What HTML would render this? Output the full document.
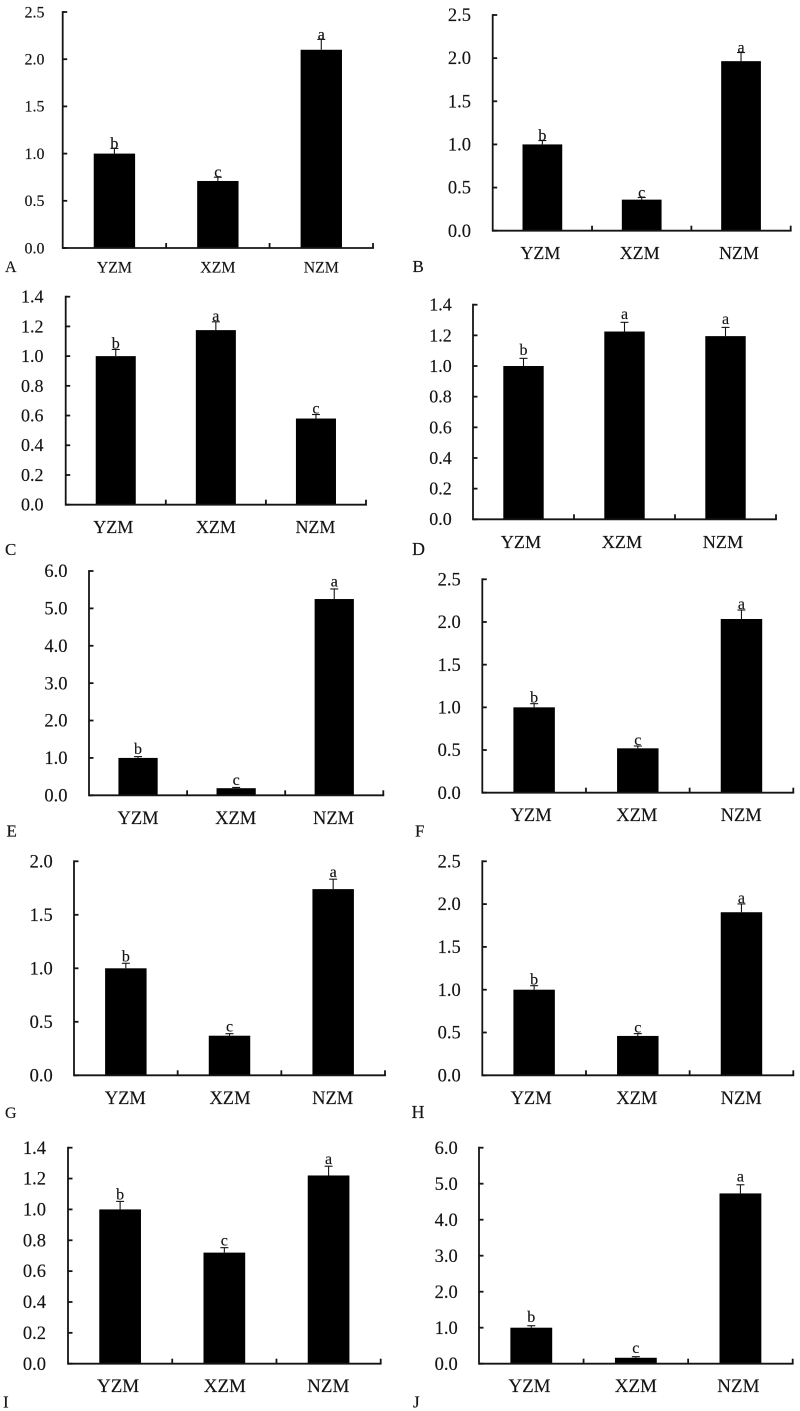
<!DOCTYPE html>
<html lang="en">
<head>
<meta charset="utf-8">
<title>Relative expression bar charts, panels A to J</title>
<style>
  html, body { margin: 0; padding: 0; background: #fff; }
  body { width: 800px; height: 1411px; overflow: hidden; }
  svg { display: block; font-family: "Liberation Serif", "Times New Roman", serif; fill: #141414; filter: blur(0.35px); }
  text { fill: #141414; stroke: #141414; stroke-width: 0.15px; }
</style>
</head>
<body>
<svg id="figure" width="800" height="1411" viewBox="0 0 800 1411" xmlns="http://www.w3.org/2000/svg">
  <rect width="800" height="1411" fill="#fff"/>
  <text x="5" y="272" font-size="16">A</text>
  <text x="412.5" y="272" font-size="17">B</text>
  <text x="5" y="555" font-size="17">C</text>
  <text x="412" y="555" font-size="18">D</text>
  <text x="6.5" y="836.5" font-size="17">E</text>
  <text x="415" y="836.5" font-size="17">F</text>
  <text x="5" y="1118" font-size="16">G</text>
  <text x="411.5" y="1118" font-size="18">H</text>
  <text x="3" y="1407.5" font-size="17">I</text>
  <text x="413" y="1407.5" font-size="17">J</text>
</svg>
<script>
const categories = ['YZM', 'XZM', 'NZM'];

const ticks25 = ['0.0', '0.5', '1.0', '1.5', '2.0', '2.5'];
const ticks20 = ['0.0', '0.5', '1.0', '1.5', '2.0'];
const ticks14 = ['0.0', '0.2', '0.4', '0.6', '0.8', '1.0', '1.2', '1.4'];
const ticks60 = ['0.0', '1.0', '2.0', '3.0', '4.0', '5.0', '6.0'];

const valuesA = [1.0, 0.71, 2.10];
const valuesB = [1.0, 0.36, 1.965];
const valuesC = [1.0, 1.175, 0.58];
const valuesD = [1.0, 1.225, 1.195];
const valuesE = [1.0, 0.19, 5.25];
const valuesF = [1.0, 0.52, 2.035];
const valuesG = [1.0, 0.37, 1.74];
const valuesH = [1.0, 0.46, 1.905];
const valuesI = [1.0, 0.72, 1.22];
const valuesJ = [1.0, 0.165, 4.73];

const errorsA = [0.055, 0.04, 0.11];
const errorsB = [0.045, 0.025, 0.10];
const errorsC = [0.045, 0.056, 0.027];
const errorsD = [0.05, 0.06, 0.057];
const errorsE = [0.035, 0.02, 0.27];
const errorsF = [0.043, 0.027, 0.105];
const errorsG = [0.047, 0.019, 0.093];
const errorsH = [0.047, 0.027, 0.097];
const errorsI = [0.052, 0.032, 0.06];
const errorsJ = [0.055, 0.03, 0.24];

const lettersA = ['b', 'c', 'a'];
const lettersB = ['b', 'c', 'a'];
const lettersC = ['b', 'a', 'c'];
const lettersD = ['b', 'a', 'a'];
const lettersE = ['b', 'c', 'a'];
const lettersF = ['b', 'c', 'a'];
const lettersG = ['b', 'c', 'a'];
const lettersH = ['b', 'c', 'a'];
const lettersI = ['b', 'c', 'a'];
const lettersJ = ['b', 'c', 'a'];

const panels = [
  { id: 'a', ticks: ticks25, values: valuesA, errors: errorsA, letters: lettersA, x0: 62.7, xr: 373, top: 12, base: 248, right: 44.5, tf: 16, lf: 15.8, catY: 272.5, gap: 0, shift: [0, 0, 0] },
  { id: 'b', ticks: ticks25, values: valuesB, errors: errorsB, letters: lettersB, x0: 492.7, xr: 790.7, top: 15, base: 230.7, right: 471, tf: 18.5, lf: 18, catY: 259, gap: 0, shift: [-2, -2, -2] },
  { id: 'c', ticks: ticks14, values: valuesC, errors: errorsC, letters: lettersC, x0: 65.7, xr: 366, top: 296.7, base: 504.7, right: 43.5, tf: 18, lf: 18, catY: 533, gap: 1, shift: [-2.5, 0, -0.5] },
  { id: 'd', ticks: ticks14, values: valuesD, errors: errorsD, letters: lettersD, x0: 473, xr: 776, top: 304.7, base: 519.3, right: 451.7, tf: 18, lf: 18.2, catY: 548, gap: 3.5, shift: [-2.5, -2.5, -2.5] },
  { id: 'e', ticks: ticks60, values: valuesE, errors: errorsE, letters: lettersE, x0: 89, xr: 383.3, top: 571, base: 795.3, right: 67.5, tf: 18.5, lf: 18.5, catY: 824, gap: 2.5, shift: [0, -0.5, -0.7] },
  { id: 'f', ticks: ticks25, values: valuesF, errors: errorsF, letters: lettersF, x0: 482.3, xr: 793.3, top: 579.3, base: 792.7, right: 460.7, tf: 18.5, lf: 18.5, catY: 821, gap: 1, shift: [-3, -1, -0.3] },
  { id: 'g', ticks: ticks20, values: valuesG, errors: errorsG, letters: lettersG, x0: 74, xr: 385, top: 861.3, base: 1075.3, right: 52.7, tf: 18.5, lf: 18.5, catY: 1104, gap: 2, shift: [-0.5, 0.5, -0.5] },
  { id: 'h', ticks: ticks25, values: valuesH, errors: errorsH, letters: lettersH, x0: 482.3, xr: 793.3, top: 861.3, base: 1075.3, right: 460.7, tf: 18.5, lf: 18.5, catY: 1104, gap: 1, shift: [-3, -1, -0.3] },
  { id: 'i', ticks: ticks14, values: valuesI, errors: errorsI, letters: lettersI, x0: 68, xr: 380.7, top: 1147.7, base: 1363.7, right: 46, tf: 18.5, lf: 19, catY: 1392, gap: 2, shift: [-2, 0.5, -0.3] },
  { id: 'j', ticks: ticks60, values: valuesJ, errors: errorsJ, letters: lettersJ, x0: 479, xr: 792.7, top: 1147.7, base: 1363.7, right: 457.7, tf: 18.5, lf: 19, catY: 1392, gap: 3.5, shift: [-1.8, 0, -2] }
];

const NS = 'http://www.w3.org/2000/svg';
const figure = document.getElementById('figure');

function make(tag, parent, attrs, content) {
  const node = document.createElementNS(NS, tag);
  for (const key in attrs) node.setAttribute(key, attrs[key]);
  if (content !== undefined) node.textContent = content;
  parent.appendChild(node);
  return node;
}

panels.forEach(function (p) {
  const maxValue = parseFloat(p.ticks[p.ticks.length - 1]);
  const yScale = function (v) { return p.base - (v / maxValue) * (p.base - p.top); };
  const band = (p.xr - p.x0) / categories.length;
  const xScale = function (i) { return p.x0 + band * (i + 0.5); };
  const barWidth = band * 0.4;
  const axisStyle = { stroke: '#141414', 'stroke-width': 1.8, fill: 'none' };

  const group = make('g', figure, {});
  
  

  categories.forEach(function (cat, i) {
    const v = p.values[i];
    const errTop = yScale(v + p.errors[i]);
    const cx = xScale(i);

    const stem = make('line', group, Object.assign({}, axisStyle, { x1: cx, x2: cx, y1: yScale(v), y2: errTop, 'stroke-width': 1.1 }));
    
    

    const cap = make('line', group, Object.assign({}, axisStyle, { x1: cx - 4, x2: cx + 4, y1: errTop, y2: errTop, 'stroke-width': 1.1 }));
    
    

    const bar = make('rect', group, { x: cx - barWidth / 2, y: yScale(v), width: barWidth, height: p.base - yScale(v), fill: '#000' });
    
    

    const letter = make('text', group, { x: cx, y: errTop - p.gap, 'font-size': 16, 'text-anchor': 'middle' }, p.letters[i]);
    
    

    const label = make('text', group, { x: cx + p.shift[i], y: p.catY, 'font-size': p.lf, 'text-anchor': 'middle' }, cat);
    
    
  });

  const yAxis = make('line', group, Object.assign({}, axisStyle, { x1: p.x0, x2: p.x0, y1: p.top - 0.9, y2: p.base + 0.9 }));
  
  

  const xAxis = make('line', group, Object.assign({}, axisStyle, { x1: p.x0, x2: p.xr + 0.9, y1: p.base, y2: p.base }));
  
  

  p.ticks.forEach(function (t) {
    const y = yScale(parseFloat(t));
    const tick = make('line', group, Object.assign({}, axisStyle, { x1: p.x0, x2: p.x0 + 4.5, y1: y, y2: y }));
    
    

    const tickLabel = make('text', group, { x: p.right, y: y + p.tf * 0.33, 'font-size': p.tf, 'text-anchor': 'end' }, t);
    
    
  });

  for (let i = 1; i <= categories.length; i++) {
    const x = p.x0 + band * i;
    const xTick = make('line', group, Object.assign({}, axisStyle, { x1: x, x2: x, y1: p.base, y2: p.base - 5 }));
    
    
  }
});
</script>
</body>
</html>
